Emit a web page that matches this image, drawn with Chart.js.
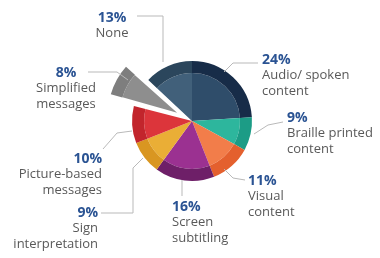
<!DOCTYPE html>
<html>
<head>
<meta charset="utf-8">
<script src="https://cdn.jsdelivr.net/npm/chart.js@4.4.1/dist/chart.umd.min.js"></script>
<style>
  html, body { margin: 0; padding: 0; background: #fff; }
  #wrap { width: 380px; height: 258px; position: relative; }
</style>
</head>
<body>
<div id="wrap"><canvas id="pieChart" width="380" height="258"></canvas></div>
<script>
// data
const categories = ['Audio/ spoken content', 'Braille printed content', 'Visual content', 'Screen subtitling',
                    'Sign interpretation', 'Picture-based messages', 'Simplified messages', 'None'];
const shares = [24, 9, 11, 16, 9, 10, 8, 13];
const fillColors = ['#2f4d6a', '#2db69d', '#f27d4a', '#9b3191', '#eaae36', '#dc353b', '#8e8e8e', '#41607a'];
const rimColors = ['#172c48', '#1c9c86', '#e4602e', '#6e1f68', '#d99621', '#c2252c', '#7e7e7e', '#2b465c'];
const explodedIndex = 6;
const explodeOffset = 68; // chart.js moves the arc by offset / 4

// label boxes + leader lines (layout only)
const labelLayout = [
    { x: 262, y: 60, align: 'left', lines: ['Audio/ spoken', 'content'], leader: [[224, 72], [233, 63], [258, 63]] },
    { x: 287, y: 118, align: 'left', lines: ['Braille printed', 'content'], leader: [[254, 134], [268, 125], [283, 122]] },
    { x: 248, y: 181, align: 'left', lines: ['Visual', 'content'], leader: [[224, 169], [233, 178], [245, 180]] },
    { x: 172, y: 207, align: 'left', lines: ['Screen', 'subtitling'], leader: [[182, 180], [182, 196]] },
    { x: 98, y: 213, align: 'right', lines: ['Sign', 'interpretation'], leader: [[101, 213], [133, 213], [133, 168], [143, 158]] },
    { x: 102, y: 159, align: 'right', lines: ['Picture-based', 'messages'], leader: [[103, 149], [117, 133], [132, 131]] },
    { x: 66, y: 73, align: 'center', lines: ['Simplified', 'messages'], leader: [[88, 72], [117, 72], [128, 80]] },
    { x: 112, y: 18, align: 'center', lines: ['None'], leader: [[137, 16], [163, 16], [163, 62]] }
];

const offsets = shares.map((v, i) => i === explodedIndex ? explodeOffset : 0);

const calloutLabels = {
    id: 'calloutLabels',
    afterDraw(chart) {
        const ctx = chart.ctx;
        ctx.save();
        labelLayout.forEach((lab, i) => {
            ctx.strokeStyle = '#b9b9b9';
            ctx.lineWidth = 1;
            ctx.beginPath();
            lab.leader.forEach((p, k) => k ? ctx.lineTo(p[0], p[1]) : ctx.moveTo(p[0], p[1]));
            ctx.stroke();

            ctx.textAlign = lab.align;
            ctx.textBaseline = 'middle';
            ctx.fillStyle = '#2a5393';
            ctx.font = 'bold 14px "Open Sans"';
            ctx.fillText(shares[i] + '%', lab.x, lab.y);
            ctx.fillStyle = '#595959';
            ctx.font = '13px "Open Sans"';
            lab.lines.forEach((t, k) => ctx.fillText(t, lab.x, lab.y + 15 + k * 16));
        });
        ctx.restore();
    }
};

new Chart(document.getElementById('pieChart'), {
    type: 'pie',
    data: {
        labels: categories,
        datasets: [
            { data: shares, backgroundColor: rimColors, borderWidth: 0, offset: offsets, weight: 1, radius: 60 },
            { data: shares, backgroundColor: fillColors, borderWidth: 0, offset: offsets, weight: 4, radius: 60 }
        ]
    },
    options: {
        responsive: false,
        animation: false,
        events: [],
        radius: 60,
        layout: { padding: { left: 4, right: 0, top: 0, bottom: 16 } },
        plugins: {
            legend: { display: false },
            tooltip: { enabled: false }
        }
    },
    plugins: [calloutLabels]
});
</script>
</body>
</html>
